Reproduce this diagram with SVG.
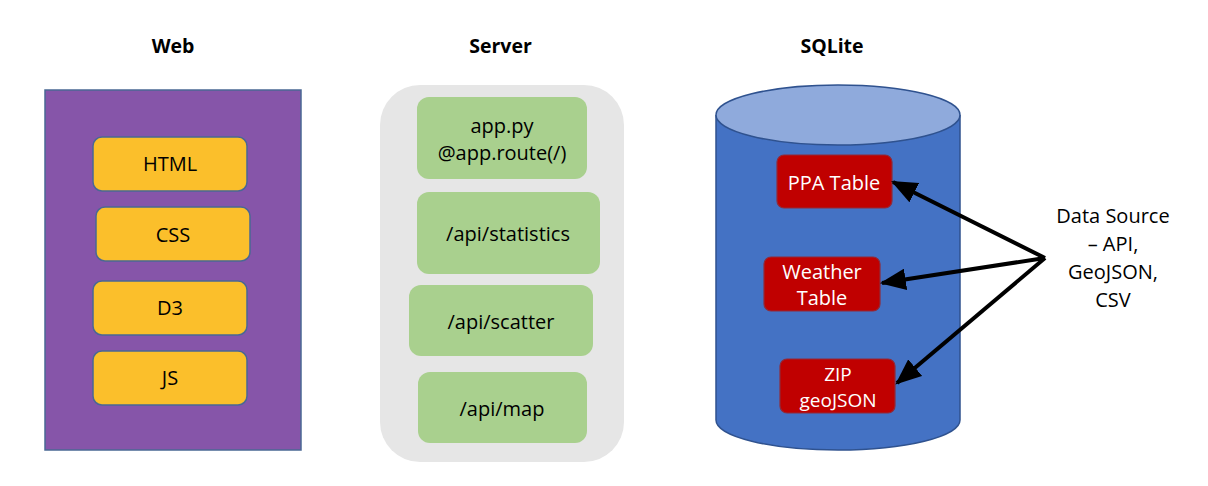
<svg xmlns="http://www.w3.org/2000/svg" width="1208" height="486" viewBox="0 0 1208 486">
<style>
.t{font-family:"Open Sans","Liberation Sans",sans-serif;font-size:20px;text-anchor:middle}
.title{font-family:"Open Sans","Liberation Sans",sans-serif;font-size:19.5px;font-weight:bold;text-anchor:middle;fill:#000}
.y{fill:#fbbf2b;stroke:#4a6894;stroke-width:1.5}
.g{fill:#a9d08e;stroke:none}
.r{fill:#c00000;stroke:#8f2b3a;stroke-width:1.2}
.w{fill:#fff}
.conn{stroke:#000;stroke-width:4;fill:none;marker-end:url(#ah)}
</style>
<defs>
<marker id="ah" viewBox="0 0 12 10" refX="11" refY="5" markerWidth="6.5" markerHeight="5.5" orient="auto" markerUnits="strokeWidth">
<path d="M0,0 L12,5 L0,10 z" fill="#000"/>
</marker>
</defs>
<rect width="1208" height="486" fill="#fff"/>
<g id="titles">
<text class="title" x="173" y="53">Web</text>
<text class="title" x="500.5" y="53">Server</text>
<text class="title" x="832" y="53">SQLite</text>
</g>
<g id="web">
<rect x="45" y="90" width="256" height="360" fill="#8655a9" stroke="#4a6894" stroke-width="1.5"/>
<g id="html"><rect class="y" x="93" y="137" width="154" height="54" rx="9"/><text class="t" x="170" y="171">HTML</text></g>
<g id="css"><rect class="y" x="96" y="207" width="154" height="54" rx="9"/><text class="t" x="173" y="242">CSS</text></g>
<g id="d3"><rect class="y" x="93" y="281" width="154" height="54" rx="9"/><text class="t" x="170" y="315">D3</text></g>
<g id="js"><rect class="y" x="93" y="351" width="154" height="54" rx="9"/><text class="t" x="170" y="385">JS</text></g>
</g>
<g id="server">
<rect x="380" y="85" width="244" height="377" rx="40" fill="#e6e6e6"/>
<g id="app"><rect class="g" x="417" y="97" width="170" height="82" rx="12"/><text class="t" x="502" y="133">app.py</text><text class="t" x="502" y="160">@app.route(/)</text></g>
<g id="stats"><rect class="g" x="417" y="192" width="183" height="82" rx="12"/><text class="t" x="508" y="241">/api/statistics</text></g>
<g id="scatter"><rect class="g" x="409" y="285" width="184" height="71" rx="12"/><text class="t" x="501" y="329">/api/scatter</text></g>
<g id="map"><rect class="g" x="418" y="372" width="169" height="71" rx="12"/><text class="t" x="502" y="416">/api/map</text></g>
</g>
<g id="sqlite">
<path d="M716,115 L716,420 A122,30 0 0 0 960,420 L960,115" fill="#4472c4" stroke="#2f528f" stroke-width="1.5"/>
<ellipse cx="838" cy="115" rx="122" ry="30" fill="#8faadc" stroke="#2f528f" stroke-width="1.5"/>
<g id="ppa"><rect class="r" x="777" y="155" width="115" height="53" rx="7"/><text class="t w" x="834" y="190">PPA Table</text></g>
<g id="weather"><rect class="r" x="764" y="257" width="116" height="54" rx="7"/><text class="t w" x="822" y="279">Weather</text><text class="t w" x="822" y="305">Table</text></g>
<g id="zip"><rect class="r" x="780" y="359" width="115" height="54" rx="7"/><text class="t w" x="838" y="381" style="font-size:19px">ZIP</text><text class="t w" x="838" y="407" style="font-size:19px">geoJSON</text></g>
</g>
<g id="source">
<text class="t" x="1113" y="223">Data Source</text>
<text class="t" x="1113" y="251">– API,</text>
<text class="t" x="1113" y="279">GeoJSON,</text>
<text class="t" x="1113" y="307">CSV</text>
</g>
<g id="connectors">
<line class="conn" x1="1045" y1="258" x2="893" y2="182"/>
<line class="conn" x1="1045" y1="258" x2="882" y2="283"/>
<line class="conn" x1="1045" y1="258" x2="897" y2="383"/>
</g>
</svg>
